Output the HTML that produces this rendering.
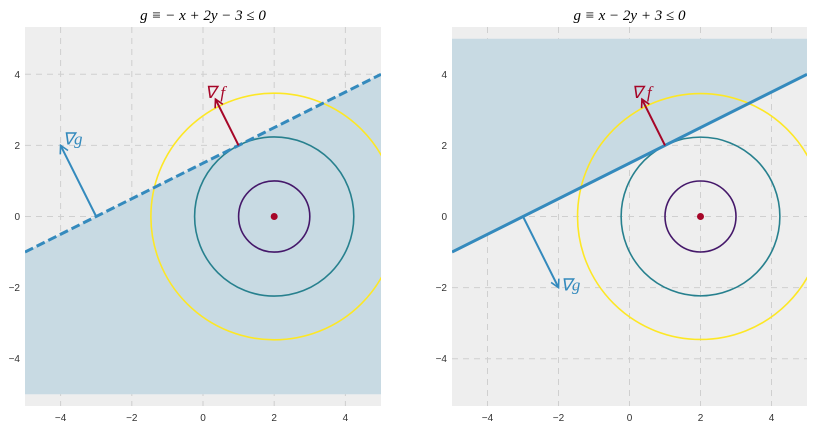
<!DOCTYPE html>
<html><head><meta charset="utf-8"><style>
body{margin:0;background:#fff;width:813px;height:427px;overflow:hidden}
svg text.sans{font-family:"Liberation Sans",sans-serif}
</style></head><body>
<svg id="chart" width="813" height="427"></svg>
<script>
const xTicks=[-4,-2,0,2,4];
const yTicks=[-4,-2,0,2,4];
const circleRadii=[1,2.236,3.464];
const circleColors=["#45186a","#27808e","#fde725"];
const center=[2,0];
const lineSlope=0.5, lineIntercept=1.5;
const gradFStart=[1,2], gradFEnd=[0.35,3.3];
const gradGStart=[-3,0];
const gradGLeftEnd=[-4,2], gradGRightEnd=[-2,-2];
const panels=[
 {x0:25,x1:381,title:"g ≡ − x + 2y − 3 ≤ 0",dashed:true,fillBelow:true,gEnd:gradGLeftEnd,gLab:[-4,2]},
 {x0:452,x1:807,title:"g ≡ x − 2y + 3 ≤ 0",dashed:false,fillBelow:false,gEnd:gradGRightEnd,gLab:[-2,-2]}
];
const NS="http://www.w3.org/2000/svg";
const svg=document.getElementById('chart');
function mk(t,a,p){const e=document.createElementNS(NS,t);for(const k in a)e.setAttribute(k,a[k]);(p||svg).appendChild(e);return e;}
const serif="font-family:'Liberation Serif',serif;font-style:italic";
const yTop=27,yBot=406,yMin=-5.33,yMax=5.33;
panels.forEach((P,i)=>{
 const sx=v=>P.x0+(v+5)/10*(P.x1-P.x0);
 const sy=v=>yTop+(yMax-v)/(yMax-yMin)*(yBot-yTop);
 const g=mk('g',{});
 
 
 mk('rect',{x:P.x0,y:yTop,width:P.x1-P.x0,height:yBot-yTop,fill:"#eeeeee"},g);
 const cp=mk('clipPath',{id:'c'+i},g);mk('rect',{x:P.x0,y:yTop,width:P.x1-P.x0,height:yBot-yTop},cp);
 xTicks.forEach(t=>{mk('line',{x1:sx(t),x2:sx(t),y1:yTop,y2:yBot,stroke:"#cfcfcf","stroke-dasharray":"6,5","stroke-width":1},g);
  const tx=mk('text',{class:"sans",x:sx(t),y:yBot+15,"font-size":10,"text-anchor":"middle",fill:"#333"},g);tx.textContent=(t<0?"−":"")+Math.abs(t);
  });
 yTicks.forEach(t=>{mk('line',{x1:P.x0,x2:P.x1,y1:sy(t),y2:sy(t),stroke:"#cfcfcf","stroke-dasharray":"6,5","stroke-width":1},g);
  const tx=mk('text',{class:"sans",x:P.x0-5,y:sy(t)+3.5,"font-size":10,"text-anchor":"end",fill:"#333"},g);tx.textContent=(t<0?"−":"")+Math.abs(t);
  });
 const L=x=>lineSlope*x+lineIntercept;
 const yb=P.fillBelow?-5:5;
 const f=mk('polygon',{points:`${sx(-5)},${sy(L(-5))} ${sx(5)},${sy(L(5))} ${sx(5)},${sy(yb)} ${sx(-5)},${sy(yb)}`,fill:"#c8dae3"},g);
 
 const cg=mk('g',{"clip-path":`url(#c${i})`},g);
 circleRadii.forEach((r,k)=>{const c=mk('circle',{cx:sx(center[0]),cy:sy(center[1]),r:r*(P.x1-P.x0)/10,fill:"none",stroke:circleColors[k],"stroke-width":1.6},cg);
  });
 const ln=mk('line',{x1:sx(-5),y1:sy(L(-5)),x2:sx(5),y2:sy(L(5)),stroke:"#348abd","stroke-width":3,"stroke-dasharray":P.dashed?"9,4":"none"},cg);
 
 const dot=mk('circle',{cx:sx(center[0]),cy:sy(center[1]),r:3.5,fill:"#a60628"},g);
 
 function arrow(a,b,col,name){const x1=sx(a[0]),y1=sy(a[1]),x2=sx(b[0]),y2=sy(b[1]);
  const ang=Math.atan2(y2-y1,x2-x1),h=9;
  const ag=mk('g',{},g);
  mk('line',{x1,y1,x2,y2,stroke:col,"stroke-width":2},ag);
  mk('polyline',{points:`${x2-h*Math.cos(ang-0.5)},${y2-h*Math.sin(ang-0.5)} ${x2},${y2} ${x2-h*Math.cos(ang+0.5)},${y2-h*Math.sin(ang+0.5)}`,fill:"none",stroke:col,"stroke-width":1.6},ag);}
 arrow(gradFStart,gradFEnd,"#a60628","grad-f-arrow");
 arrow(gradGStart,P.gEnd,"#348abd","grad-g-arrow");
 const tf=mk('text',{x:sx(0.05),y:sy(3.5)+6,"font-size":17,fill:"#a60628",style:serif},g);tf.textContent="∇ f";
 
 const tg=mk('text',{x:sx(P.gLab[0])+2,y:sy(P.gLab[1])+(i==0?-1:3),"font-size":17,fill:"#348abd",style:serif},g);tg.textContent="∇g";
 
 const tt=mk('text',{x:(P.x0+P.x1)/2,y:20,"font-size":15,"text-anchor":"middle",style:serif,fill:"#000"},g);tt.textContent=P.title;
 
});
</script>
</body></html>
